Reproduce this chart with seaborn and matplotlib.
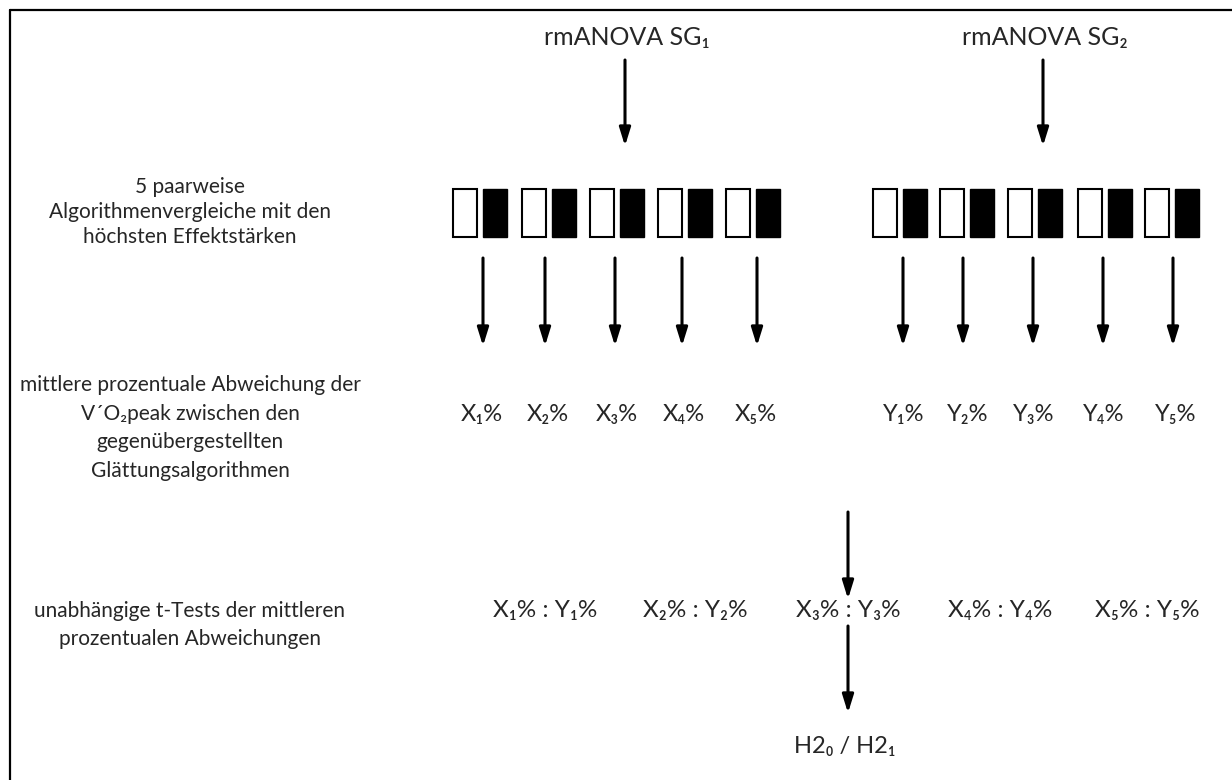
import matplotlib
matplotlib.use("Agg")
import matplotlib.pyplot as plt
import seaborn as sns

# Flow chart content
anova_titles = ["rmANOVA SG₁", "rmANOVA SG₂"]
row_labels = [
    "5 paarweise\nAlgorithmenvergleiche mit den\nhöchsten Effektstärken",
    "mittlere prozentuale Abweichung der\nV´O₂peak zwischen den\ngegenübergestellten\nGlättungsalgorithmen",
    "unabhängige t-Tests der mittleren\nprozentualen Abweichungen",
]
x_labels = ["X₁%", "X₂%", "X₃%", "X₄%", "X₅%"]
y_labels = ["Y₁%", "Y₂%", "Y₃%", "Y₄%", "Y₅%"]
pair_labels = [f"{a} : {b}" for a, b in zip(x_labels, y_labels)]
result_label = "H2₀ / H2₁"

# layout (pixel space of a 1232x780 canvas)
anova_x = [627, 1045]
box_left = [[453, 522, 590, 658, 726], [873, 940, 1008, 1078, 1145]]
arrow_x = [[483, 545, 615, 682, 757], [903, 963, 1033, 1103, 1173]]
pct_x = [[482, 548, 617, 684, 756], [904, 968, 1034, 1104, 1176]]
pair_x = [545, 695, 848, 1000, 1147]
center_x = 848

sns.set_theme(style="white")
plt.rcParams["font.family"] = ["Lato", "DejaVu Sans"]

fig = plt.figure(figsize=(12.32, 7.8), dpi=100)
ax = fig.add_axes([0, 0, 1, 1])
ax.set_xlim(0, 1232)
ax.set_ylim(780, 0)
ax.axis("off")

# frame (top and left edges only)
ax.plot([10, 1232], [10, 10], color="black", lw=1.6)
ax.plot([10, 10], [10, 780], color="black", lw=1.6)


def arrow(x, y0, y1):
    ax.annotate("", xy=(x, y1), xytext=(x, y0),
                arrowprops=dict(arrowstyle="-|>,head_length=0.9,head_width=0.28",
                                color="black", lw=2.2, shrinkA=0, shrinkB=0))


# top titles and arrows
for title, x in zip(anova_titles, anova_x):
    ax.text(x, 38, title, ha="center", va="center", fontsize=18)
    arrow(x - 2, 60, 146)

# left row labels
label_y = [212, 428, 625]
label_spacing = [1.3, 1.55, 1.55]
for lab, y, ls in zip(row_labels, label_y, label_spacing):
    ax.text(190, y, lab, ha="center", va="center", fontsize=15, linespacing=ls)

# paired boxes
for group in box_left:
    ax.bar([x + 12 for x in group], [48] * len(group), width=24, bottom=189,
           color="white", edgecolor="black", linewidth=1.5)
    ax.bar([x + 42 for x in group], [48] * len(group), width=24, bottom=189,
           color="black", edgecolor="black", linewidth=1.0)

# arrows to percentages
for group in arrow_x:
    for x in group:
        arrow(x, 258, 346)

# percentage labels
for labels, xs in zip([x_labels, y_labels], pct_x):
    for lab, x in zip(labels, xs):
        ax.text(x, 414, lab, ha="center", va="center", fontsize=17)

arrow(center_x, 512, 599)

for lab, x in zip(pair_labels, pair_x):
    ax.text(x, 611, lab, ha="center", va="center", fontsize=17.5)

arrow(center_x, 626, 713)
ax.text(845, 746, result_label, ha="center", va="center", fontsize=17)

fig.savefig("out.png", dpi=100)
